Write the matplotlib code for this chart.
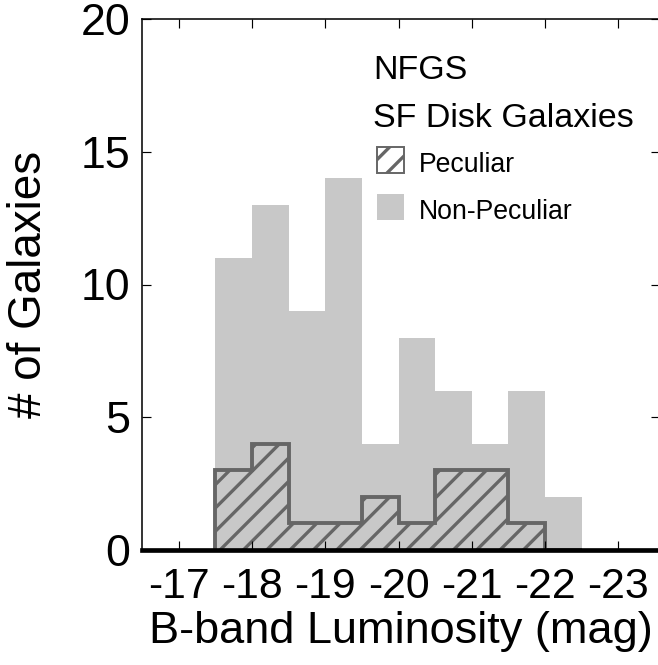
import matplotlib
matplotlib.use("Agg")
import matplotlib.pyplot as plt
from matplotlib.patches import Rectangle

# Data (bins of 0.5 mag, B-band absolute magnitude)
bin_edges = [-17.5, -18.0, -18.5, -19.0, -19.5, -20.0, -20.5, -21.0, -21.5, -22.0, -22.5]
all_counts = [11, 13, 9, 14, 4, 8, 6, 4, 6, 2]
peculiar_counts = [3, 4, 1, 1, 2, 1, 3, 3, 1, 0]
xticks = [-17, -18, -19, -20, -21, -22, -23]
xticklabels = ["-17", "-18", "-19", "-20", "-21", "-22", "-23"]
yticks = [0, 5, 10, 15, 20]

plt.rcParams['font.family'] = ['Liberation Sans', 'DejaVu Sans']
plt.rcParams['hatch.linewidth'] = 1.7

DPI = 140
fig = plt.figure(figsize=(658 / DPI, 665 / DPI), dpi=DPI)
ax = fig.add_axes([142 / 658, 115 / 665, 518 / 658, 531 / 665])

gray = '#c8c8c8'
edge = '#666666'

ax.stairs(all_counts, bin_edges, fill=True, facecolor=gray, edgecolor='none', linewidth=0)
ax.stairs(peculiar_counts, bin_edges, fill=True, facecolor='none', edgecolor=edge,
          hatch='//', linewidth=2.0)

ax.set_xlim(-16.5, -16.5 - 518 / 73.3)
ax.set_ylim(0, 20)
ax.set_xticks(xticks)
ax.set_xticklabels(xticklabels)
ax.set_yticks(yticks)

ax.tick_params(axis='both', direction='in', length=4.6, width=0.6,
               top=True, right=True, colors='black')
ax.tick_params(axis='x', pad=9, labelsize=22)
ax.tick_params(axis='y', pad=6, labelsize=23)
for s in ['left', 'top', 'right']:
    ax.spines[s].set_linewidth(0.8)
ax.spines['bottom'].set_linewidth(2.4)

ax.set_xlabel('B-band Luminosity (mag)', fontsize=23.2, labelpad=2)
ax.set_ylabel('# of Galaxies', fontsize=23.5, labelpad=15)

# Legend / annotation
tr = ax.transAxes
ax.text(0.446, 0.887, 'NFGS', transform=tr, fontsize=17.5, ha='left', va='baseline')
ax.text(0.446, 0.797, 'SF Disk Galaxies', transform=tr, fontsize=17.5, ha='left', va='baseline')
ax.add_patch(Rectangle((0.4537, 0.710), 0.0521, 0.049, transform=tr, facecolor='white',
                       edgecolor=edge, hatch='//', linewidth=1.0, clip_on=False))
ax.text(0.5347, 0.712, 'Peculiar', transform=tr, fontsize=13.7, ha='left', va='baseline')
ax.add_patch(Rectangle((0.4537, 0.6215), 0.0521, 0.049, transform=tr, facecolor=gray,
                       edgecolor='none', clip_on=False))
ax.text(0.5347, 0.623, 'Non-Peculiar', transform=tr, fontsize=13.7, ha='left', va='baseline')

fig.savefig('out.png', dpi=DPI)
